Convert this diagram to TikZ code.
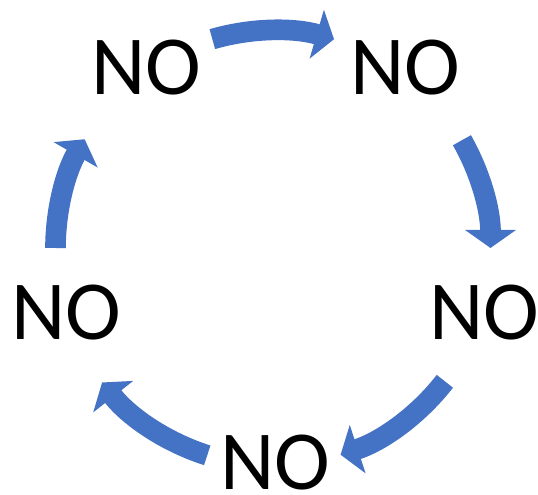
\documentclass[tikz,border=0pt]{standalone}
\usepackage{fontspec}
\setmainfont{Carlito}
\usetikzlibrary{arrows.meta}
\definecolor{cycleblue}{HTML}{4472C4}
\begin{document}
\begin{tikzpicture}[x=0.75pt,y=0.75pt,
    word/.style={anchor=base,inner sep=0pt,font=\fontsize{63}{63}\selectfont},
    flow/.style={cycleblue,line width=15.5pt,-{Triangle[width=37.5pt,length=13.5pt]}}]
    \useasboundingbox (0,0) rectangle (538,495);

    \def\r{217.5}
    \coordinate (c) at (273,247);

    \node[word] (topleft) at (146,400) {NO};
    \node[word] (topright) at (405,400) {NO};
    \node[word] (right) at (484,155) {NO};
    \node[word] (bottom) at (275.5,5) {NO};
    \node[word] (left) at (66,155) {NO};

    \coordinate (s1) at ([shift={(106.2:\r)}]c);
    \coordinate (s2) at ([shift={(29.7:\r)}]c);
    \coordinate (s3) at ([shift={(-37.8:\r)}]c);
    \coordinate (s4) at ([shift={(-107.6:\r)}]c);
    \coordinate (s5) at ([shift={(180:\r)}]c);
    \draw[flow] (s1) arc[start angle=106.2, end angle=73.7, radius=\r];
    \draw[flow] (s2) arc[start angle=29.7, end angle=0, radius=\r];
    \draw[flow] (s3) arc[start angle=-37.8, end angle=-71.9, radius=\r];
    \draw[flow] (s4) arc[start angle=-107.6, end angle=-141.8, radius=\r];
    \draw[flow] (s5) arc[start angle=180, end angle=150, radius=\r];
\end{tikzpicture}
\end{document}
